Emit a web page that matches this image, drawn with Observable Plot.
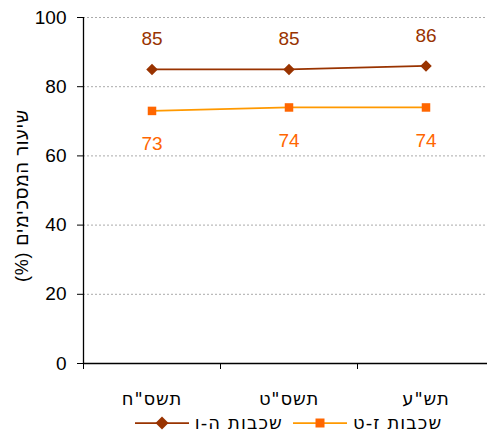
<!DOCTYPE html>
<html><head><meta charset="utf-8">
<script src="https://cdn.jsdelivr.net/npm/d3@7"></script>
<script src="https://cdn.jsdelivr.net/npm/@observablehq/plot@0.6"></script>
<style>
body{margin:0;background:#fff;}
#legend{display:flex;direction:rtl;justify-content:center;gap:10px;margin-left:83px;width:411px;margin-top:7px;font-family:"DejaVu Sans",sans-serif;font-size:18px;letter-spacing:1.1px;color:#000;line-height:21px;}
.item{display:flex;align-items:center;gap:6px;}
</style></head><body>
<div id="chart"></div>
<div id="legend"></div>
<script>
const categories = ['תשס"ח', 'תשס"ט', 'תש"ע'];
const seriesNames = ["שכבות ה-ו", "שכבות ז-ט"];
const valuesHV = [85, 85, 86];
const valuesZT = [73, 74, 74];
const yTicks = [0, 20, 40, 60, 80, 100];
const yLabel = "שיעור המסכימים (%)";

const dataHV = categories.map((c, i) => ({cat: c, v: valuesHV[i]}));
const dataZT = categories.map((c, i) => ({cat: c, v: valuesZT[i]}));

const W = 487, H = 405, mL = 83, mR = -7, mT = 17, mB = 42;
const step = (W - mL - mR) / categories.length;
const num = "Liberation Sans, Arial, sans-serif";

const plot = Plot.plot({
  width: W, height: H, marginLeft: mL, marginRight: mR, marginTop: mT, marginBottom: mB,
  x: {type: "band", domain: categories, padding: 0},
  y: {domain: [0, 100]},
  style: {fontFamily: num, background: "#fff", overflow: "visible"},
  marks: [
    Plot.gridY(yTicks.filter(d => d > 0), {stroke: "#aaa", strokeOpacity: 1, strokeDasharray: "2,2"}),
    Plot.axisY({ticks: yTicks, tickSize: 6, tickPadding: 11, fontSize: 19, label: yLabel,
      labelAnchor: "center", labelOffset: 68, labelArrow: "none"}),
    Plot.axisX({tickSize: 0, tickPadding: 29, fontSize: 18, fontFamily: "DejaVu Sans, sans-serif", label: null}),
    Plot.ruleX(categories, {x: d => d, dx: -step / 2, insetTop: H - mT - mB, insetBottom: -6, stroke: "#000"}),
    Plot.ruleX([categories[0]], {x: d => d, dx: -step / 2, stroke: "#000", strokeWidth: 1.3}),
    Plot.ruleY([0], {stroke: "#000", strokeWidth: 1.3}),
    Plot.line(dataZT, {x: "cat", y: "v", stroke: "#FF9900", strokeWidth: 1.75}),
    Plot.line(dataHV, {x: "cat", y: "v", stroke: "#993300", strokeWidth: 1.75}),
    Plot.dot(dataZT, {x: "cat", y: "v", symbol: "square", r: 4.8, fill: "#FF6600", stroke: "none"}),
    Plot.dot(dataHV, {x: "cat", y: "v", symbol: "diamond2", r: 5.2, fill: "#993300", stroke: "none"}),
    Plot.text(dataHV, {x: "cat", y: "v", text: d => String(d.v), dy: -30, fill: "#993300", fontSize: 19, fontFamily: num}),
    Plot.text(dataZT, {x: "cat", y: "v", text: d => String(d.v), dy: 33, fill: "#FF6600", fontSize: 19, fontFamily: num})
  ]
});
document.getElementById("chart").appendChild(plot);
plot.querySelectorAll('[aria-label="y-axis label"] text').forEach(t => {
  t.setAttribute("direction", "rtl");
  t.style.direction = "rtl";
  t.setAttribute("font-size", 18);
  t.setAttribute("letter-spacing", "0.8");
  t.setAttribute("x", -5);
});
plot.querySelectorAll('[aria-label="x-axis tick label"] text').forEach(t => {
  t.setAttribute("letter-spacing", "0.8");
});

const legend = document.getElementById("legend");
const swatches = [
  {name: seriesNames[1], line: "#FF9900", fill: "#FF6600", shape: "square"},
  {name: seriesNames[0], line: "#993300", fill: "#993300", shape: "diamond"}
];
for (const s of swatches) {
  const item = document.createElement("div");
  item.className = "item";
  const span = document.createElement("span");
  span.textContent = s.name;
  item.appendChild(span);
  const ns = "http://www.w3.org/2000/svg";
  const svg = document.createElementNS(ns, "svg");
  svg.setAttribute("width", 54); svg.setAttribute("height", 14);
  const ln = document.createElementNS(ns, "line");
  ln.setAttribute("x1", 0); ln.setAttribute("x2", 54); ln.setAttribute("y1", 7); ln.setAttribute("y2", 7);
  ln.setAttribute("stroke", s.line); ln.setAttribute("stroke-width", 1.75);
  svg.appendChild(ln);
  const p = document.createElementNS(ns, "path");
  p.setAttribute("d", s.shape === "square" ? "M22.5,2.5h9v9h-9z" : "M27,0.5L33.5,7L27,13.5L20.5,7z");
  p.setAttribute("fill", s.fill);
  svg.appendChild(p);
  item.appendChild(svg);
  legend.appendChild(item);
}
</script>
</body></html>
